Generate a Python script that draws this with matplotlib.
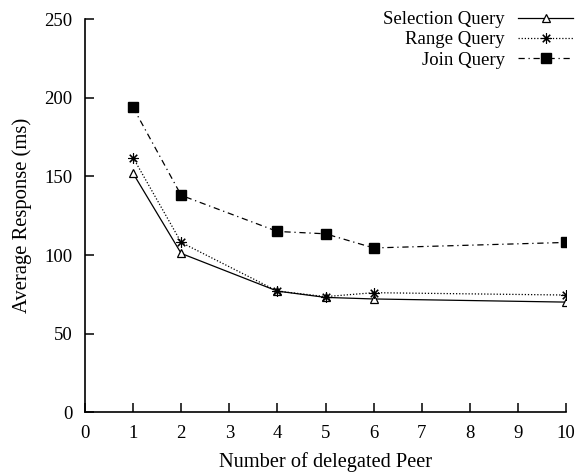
import matplotlib
matplotlib.use("Agg")
import matplotlib.pyplot as plt

# 委托节点数与平均响应时间
peers = [1, 2, 4, 5, 6, 10]
selection = [152, 101, 77, 73, 72, 70]
range_q = [162, 108, 77, 73.5, 76, 74.5]
join_q = [194, 138, 115, 113.5, 104.5, 108]

plt.rcParams['font.family'] = ['Liberation Serif', 'DejaVu Serif']
fs = 13.5

fig = plt.figure(figsize=(5.77, 4.72), dpi=100)
ax = fig.add_axes([0.1473, 0.1271, 0.8337, 0.8316])

ax.plot(peers, selection, color='black', lw=0.9, ls='-',
        marker='^', ms=6, mfc='white', mec='black', mew=0.9,
        label='Selection Query')
ax.plot(peers, range_q, color='black', lw=0.9, ls=(0, (1, 1.5)),
        marker=(8, 2, 0), ms=7.5, mec='black', mew=0.8,
        label='Range Query')
ax.plot(peers, join_q, color='black', lw=0.9, ls=(0, (5, 3, 1, 3)),
        marker='s', ms=6.5, mfc='black', mec='black',
        label='Join Query')

ax.set_xlim(0, 10)
ax.set_ylim(0, 250)
ax.set_xticks(range(0, 11))
ax.set_yticks(range(0, 251, 50))
ax.tick_params(direction='in', length=6.5, width=1.1, labelsize=fs, pad=9)

for s in ['top', 'right']:
    ax.spines[s].set_visible(False)
for s in ['left', 'bottom']:
    ax.spines[s].set_linewidth(1.2)

ax.set_xlabel('Number of delegated Peer', fontsize=14.7, labelpad=7.5)
ax.set_ylabel('Average Response (ms)', fontsize=14.9, labelpad=9)

fig.legend(*ax.get_legend_handles_labels(), loc='upper right',
           bbox_to_anchor=(573 / 577, 1 - 11 / 472), frameon=False,
           markerfirst=False, fontsize=fs, handlelength=2.93,
           labelspacing=0.17, handletextpad=0.7, borderpad=0,
           borderaxespad=0)

plt.savefig("out.png", dpi=100)
